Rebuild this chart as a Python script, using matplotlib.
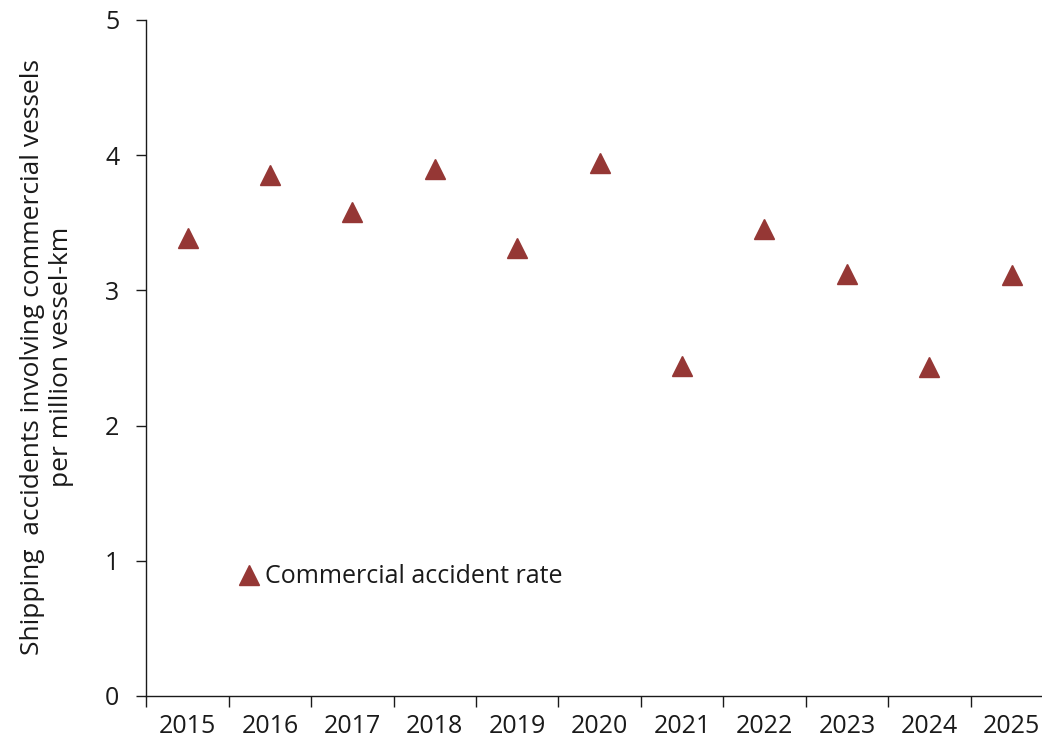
import matplotlib.pyplot as plt

years = ['2015', '2016', '2017', '2018', '2019', '2020',
         '2021', '2022', '2023', '2024', '2025']
accident_rate = [3.39, 3.85, 3.58, 3.90, 3.31, 3.94,
                 2.44, 3.45, 3.12, 2.43, 3.11]
y_ticks = [0, 1, 2, 3, 4, 5]

plt.rcParams['font.family'] = ['Open Sans', 'DejaVu Sans']
text_color = '#1a1a1a'
marker_color = '#953735'

fig = plt.figure(figsize=(10.42, 7.49), dpi=100)
ax = fig.add_axes([0.1405, 0.0708, 0.870, 0.9026])

x = list(range(len(years)))
ax.plot(x, accident_rate, linestyle='none', marker='^', markersize=14,
        color=marker_color, label='Commercial accident rate', clip_on=False)

ax.set_xlim(-0.5, len(years) - 0.5)
ax.set_ylim(0, 5)

# tick marks at category boundaries, labels at centres
ax.set_xticks([i - 0.5 for i in range(len(years) + 1)])
ax.set_xticklabels([])
ax.set_xticks(x, minor=True)
ax.set_xticklabels(years, minor=True)
ax.tick_params(axis='x', which='major', direction='out', length=8, width=1, color=text_color)
ax.tick_params(axis='x', which='minor', length=0, pad=13, labelsize=18, labelcolor=text_color)

ax.set_yticks(y_ticks)
ax.tick_params(axis='y', direction='out', length=7.5, width=1, pad=12,
               labelsize=18, labelcolor=text_color, color=text_color)

for side in ('top', 'right'):
    ax.spines[side].set_visible(False)
for side in ('left', 'bottom'):
    ax.spines[side].set_linewidth(1)
    ax.spines[side].set_color(text_color)

fig.text(0.045, 0.523, 'Shipping  accidents involving commercial vessels\nper million vessel-km',
         rotation=90, ha='center', va='center', multialignment='center',
         fontsize=19, color=text_color, linespacing=1.25)

ax.legend(loc='center left', bbox_to_anchor=(0.0855, 0.176), frameon=False,
          borderpad=0, handlelength=1, handletextpad=0.15, fontsize=18,
          labelcolor=text_color)

plt.savefig('out.png', dpi=100)
